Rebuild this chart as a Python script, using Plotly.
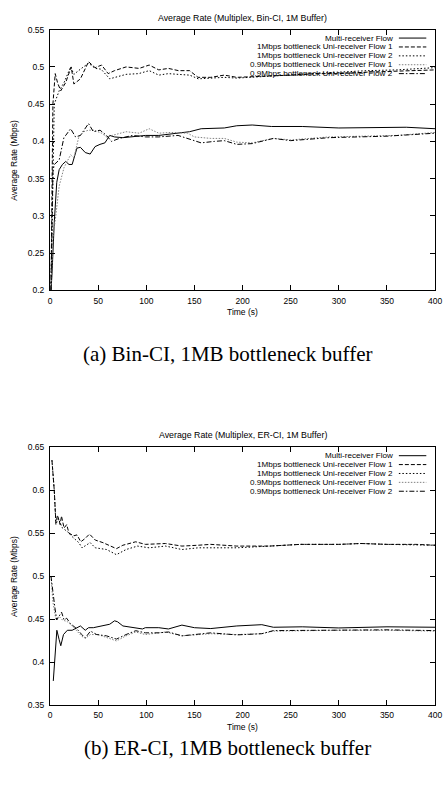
import plotly.graph_objects as go

# ---------------- DATA ----------------
# (a) Bin-CI
bin_multi_t = [1, 2, 4.4, 7, 9.5, 12.9, 16.3, 19.7, 23, 28, 31.6, 36.6, 41.7, 46.8, 51.9, 57, 62, 67, 75.7, 85.8, 99.4, 113, 133, 145, 157, 181, 194, 210, 230, 262, 300, 340, 370, 400]
bin_multi_v = [0.2, 0.22, 0.291, 0.345, 0.362, 0.369, 0.373, 0.369, 0.369, 0.391, 0.392, 0.385, 0.383, 0.393, 0.396, 0.398, 0.408, 0.406, 0.405, 0.406, 0.408, 0.408, 0.411, 0.413, 0.417, 0.418, 0.421, 0.422, 0.420, 0.420, 0.418, 0.419, 0.419, 0.417]

bin_1m_f1_t = [1, 3, 5.4, 8, 11.2, 16.3, 22, 24.8, 31.6, 40, 46.8, 53.6, 60.4, 67, 79, 92.6, 103, 113, 123, 133.4, 145, 153.7, 167, 181, 194, 220, 250, 280, 300, 330, 360, 400]
bin_1m_f1_v = [0.2, 0.45, 0.491, 0.478, 0.468, 0.479, 0.50, 0.477, 0.484, 0.507, 0.499, 0.5025, 0.491, 0.495, 0.50, 0.498, 0.5025, 0.496, 0.498, 0.495, 0.495, 0.486, 0.486, 0.489, 0.486, 0.487, 0.489, 0.491, 0.491, 0.493, 0.494, 0.496]

bin_1m_f2_t = [1, 4.4, 9.5, 14.6, 21.4, 24.8, 31.6, 40, 47, 53, 62, 70, 79, 92, 103, 113, 123, 133, 145, 154, 167, 181, 194, 220, 250, 280, 300, 330, 360, 400]
bin_1m_f2_v = [0.2, 0.45, 0.468, 0.479, 0.50, 0.490, 0.497, 0.505, 0.498, 0.497, 0.484, 0.487, 0.490, 0.491, 0.495, 0.489, 0.491, 0.49, 0.489, 0.484, 0.485, 0.486, 0.485, 0.487, 0.490, 0.492, 0.493, 0.495, 0.496, 0.499]

bin_09_f1_t = [1, 3, 6, 9.5, 14.6, 21.4, 24.8, 29.9, 35, 40, 46, 53.6, 58.7, 68.9, 79, 92.6, 103, 113, 125, 143, 150, 167, 181, 194, 210, 232, 250, 290, 330, 360, 400]
bin_09_f1_v = [0.2, 0.27, 0.30, 0.34, 0.365, 0.382, 0.378, 0.406, 0.413, 0.415, 0.415, 0.411, 0.406, 0.41, 0.413, 0.411, 0.417, 0.411, 0.412, 0.411, 0.406, 0.404, 0.404, 0.399, 0.398, 0.404, 0.402, 0.406, 0.407, 0.408, 0.412]

bin_09_f2_t = [1, 3, 4.5, 9.5, 14.6, 16.3, 21.4, 26.5, 31.6, 40, 45, 52, 58.7, 63.8, 72, 85.8, 99.4, 113, 133, 143, 157, 170.7, 181, 194, 210, 232, 250, 290, 350, 400]
bin_09_f2_v = [0.2, 0.36, 0.369, 0.375, 0.406, 0.408, 0.417, 0.406, 0.408, 0.424, 0.413, 0.415, 0.408, 0.40, 0.404, 0.408, 0.406, 0.406, 0.408, 0.404, 0.398, 0.400, 0.401, 0.396, 0.397, 0.404, 0.401, 0.405, 0.407, 0.411]

# (b) ER-CI
er_multi_t = [3.4, 6.1, 7.1, 9.5, 11.2, 14, 18, 23, 28, 31.6, 36.6, 40, 45, 55, 62, 67, 70, 75.7, 89, 96, 99, 113, 123, 137, 150, 167, 194, 220, 232, 262, 300, 350, 400]
er_multi_v = [0.378, 0.429, 0.437, 0.426, 0.419, 0.432, 0.437, 0.437, 0.440, 0.442, 0.437, 0.440, 0.440, 0.442, 0.444, 0.448, 0.447, 0.442, 0.440, 0.4385, 0.440, 0.440, 0.4385, 0.443, 0.440, 0.439, 0.442, 0.4435, 0.4405, 0.441, 0.4397, 0.441, 0.4405]

er_1m_f1_t = [2, 4.4, 6.1, 7.8, 10.5, 11.9, 14.6, 17.3, 19.7, 24.8, 28, 32, 36.6, 41, 47, 55, 69, 75.7, 89, 99, 120, 137, 154, 167, 194, 228, 260, 300, 323, 350, 380, 400]
er_1m_f1_v = [0.635, 0.60, 0.562, 0.571, 0.560, 0.570, 0.556, 0.560, 0.55, 0.547, 0.548, 0.540, 0.544, 0.549, 0.542, 0.539, 0.532, 0.536, 0.540, 0.537, 0.538, 0.535, 0.536, 0.537, 0.535, 0.535, 0.537, 0.537, 0.538, 0.537, 0.537, 0.536]

er_1m_f2_t = [2, 4.4, 6.1, 8.5, 12.9, 18, 23, 29.9, 33.3, 41.7, 47, 58.7, 69, 79, 90.9, 103, 120, 137, 154, 194, 228, 260, 300, 323, 350, 400]
er_1m_f2_v = [0.635, 0.60, 0.560, 0.567, 0.556, 0.552, 0.546, 0.539, 0.533, 0.539, 0.533, 0.531, 0.525, 0.531, 0.535, 0.533, 0.535, 0.531, 0.533, 0.533, 0.535, 0.537, 0.537, 0.538, 0.537, 0.536]

er_09_f1_t = [1, 3, 6, 9.5, 12.9, 18, 23, 28, 33, 36.6, 42, 50, 58.7, 69, 79, 89, 99, 120, 137, 167, 194, 220, 232, 262, 300, 350, 400]
er_09_f1_v = [0.5, 0.47, 0.45, 0.453, 0.449, 0.447, 0.442, 0.436, 0.430, 0.4277, 0.432, 0.432, 0.429, 0.4246, 0.4305, 0.435, 0.432, 0.435, 0.4305, 0.433, 0.432, 0.433, 0.436, 0.4365, 0.437, 0.437, 0.436]

er_09_f2_t = [1, 3, 5.1, 7, 9.5, 12, 14.6, 17.3, 21, 28, 33, 36.6, 42, 48.5, 58.7, 69, 79, 89, 99, 113, 123, 137, 150, 167, 194, 220, 232, 262, 300, 350, 400]
er_09_f2_v = [0.5, 0.48, 0.463, 0.449, 0.454, 0.458, 0.449, 0.451, 0.445, 0.4385, 0.432, 0.428, 0.436, 0.432, 0.4305, 0.4267, 0.432, 0.4365, 0.434, 0.434, 0.435, 0.4305, 0.432, 0.434, 0.4316, 0.433, 0.4366, 0.437, 0.437, 0.4375, 0.4366]

series_names = ["Multi-receiver Flow",
                "1Mbps bottleneck Uni-receiver Flow 1",
                "1Mbps bottleneck Uni-receiver Flow 2",
                "0.9Mbps bottleneck Uni-receiver Flow 1",
                "0.9Mbps bottleneck Uni-receiver Flow 2"]

titles = ["Average Rate (Multiplex, Bin-CI, 1M Buffer)",
          "Average Rate (Multiplex, ER-CI, 1M Buffer)"]
captions = ["(a) Bin-CI, 1MB bottleneck buffer",
            "(b) ER-CI, 1MB bottleneck buffer"]
x_label = "Time (s)"
y_label = "Average Rate (Mbps)"

x_ticks = [0, 50, 100, 150, 200, 250, 300, 350, 400]
y_ticks_a = [0.2, 0.25, 0.3, 0.35, 0.4, 0.45, 0.5, 0.55]
y_ticks_a_text = ["0.2", "0.25", "0.3", "0.35", "0.4", "0.45", "0.5", "0.55"]
y_ticks_b = [0.35, 0.4, 0.45, 0.5, 0.55, 0.6, 0.65]
y_ticks_b_text = ["0.35", "0.4", "0.45", "0.5", "0.55", "0.6", "0.65"]

# ---------------- STYLE / LAYOUT ----------------
W, H = 448, 787
SANS = "Liberation Sans, Arial, sans-serif"
SERIF = "Liberation Serif, Times New Roman, serif"

styles = [
    dict(color="black", width=1, dash="solid"),
    dict(color="black", width=1, dash="4px,2px"),
    dict(color="black", width=1, dash="1.5px,2px"),
    dict(color="#808080", width=1, dash="1.5px,1.5px"),
    dict(color="black", width=1, dash="5px,2px,1.5px,2px"),
]

def px_x(p):
    return p / W

def px_y(p):
    return 1 - p / H

x_left, x_right = 49, 442
panels = [
    dict(top=25, bottom=289, xa="x", ya="y", cap=353,
         data=[(bin_multi_t, bin_multi_v), (bin_1m_f1_t, bin_1m_f1_v), (bin_1m_f2_t, bin_1m_f2_v),
               (bin_09_f1_t, bin_09_f1_v), (bin_09_f2_t, bin_09_f2_v)],
         yr=[0.2, 0.55], yt=y_ticks_a, ytt=y_ticks_a_text),
    dict(top=448, bottom=709, xa="x2", ya="y2", cap=753,
         data=[(er_multi_t, er_multi_v), (er_1m_f1_t, er_1m_f1_v), (er_1m_f2_t, er_1m_f2_v),
               (er_09_f1_t, er_09_f1_v), (er_09_f2_t, er_09_f2_v)],
         yr=[0.35, 0.65], yt=y_ticks_b, ytt=y_ticks_b_text),
]

fig = go.Figure()
annotations = []
shapes = []
layout_axes = {}

for i, p in enumerate(panels):
    for (t, v), st, nm in zip(p["data"], styles, series_names):
        fig.add_trace(go.Scatter(x=t, y=v, mode="lines", line=st, name=nm,
                                 xaxis=p["xa"], yaxis=p["ya"], showlegend=False,
                                 hoverinfo="skip"))
    xkey = "xaxis" if i == 0 else "xaxis2"
    ykey = "yaxis" if i == 0 else "yaxis2"
    common = dict(showline=True, linecolor="black", linewidth=1, mirror="ticks",
                  ticks="inside", ticklen=5, tickcolor="black", tickwidth=1,
                  showgrid=False, zeroline=False, ticklabeloverflow="allow",
                  tickfont=dict(family=SANS, size=8.5, color="black"))
    layout_axes[xkey] = dict(common, domain=[px_x(x_left), px_x(x_right)],
                             range=[0, 400], tickvals=x_ticks,
                             ticktext=[str(v) for v in x_ticks],
                             anchor=p["ya"], ticklabelstandoff=2)
    layout_axes[ykey] = dict(common, domain=[px_y(p["bottom"]), px_y(p["top"])],
                             range=p["yr"], tickvals=p["yt"], ticktext=p["ytt"],
                             anchor=p["xa"], ticklabelstandoff=3)
    cx = (x_left + x_right) / 2
    # title
    annotations.append(dict(text=titles[i], x=px_x(cx), y=px_y(p["top"] - 12),
                            xref="paper", yref="paper", showarrow=False,
                            xanchor="center", yanchor="middle",
                            font=dict(family=SANS, size=8.8, color="black")))
    # y label
    annotations.append(dict(text=y_label, x=px_x(12), y=px_y((p["top"] + p["bottom"]) / 2),
                            xref="paper", yref="paper", showarrow=False, textangle=-90,
                            xanchor="center", yanchor="middle",
                            font=dict(family=SANS, size=8.5, color="black")))
    # x label
    annotations.append(dict(text=x_label, x=px_x(cx), y=px_y(p["bottom"] + 22),
                            xref="paper", yref="paper", showarrow=False,
                            xanchor="center", yanchor="middle",
                            font=dict(family=SANS, size=8.5, color="black")))
    # caption
    annotations.append(dict(text=captions[i], x=px_x(230), y=px_y(p["cap"]),
                            xref="paper", yref="paper", showarrow=False,
                            xanchor="center", yanchor="middle",
                            font=dict(family=SERIF, size=21, color="black")))
    # legend (gnuplot style: right-aligned text, sample on the right)
    for k, (nm, st) in enumerate(zip(series_names, styles)):
        yy = p["top"] + 8.5 + 9 * k
        annotations.append(dict(text=nm, x=px_x(401), y=px_y(yy), xref="paper", yref="paper",
                                showarrow=False, xanchor="right", yanchor="middle",
                                font=dict(family=SANS, size=8.1, color="black")))
        shapes.append(dict(type="line", xref="paper", yref="paper",
                           x0=px_x(405), x1=px_x(433), y0=px_y(yy), y1=px_y(yy),
                           line=st))

fig.update_layout(width=W, height=H, autosize=False,
                  margin=dict(l=0, r=0, t=0, b=0),
                  paper_bgcolor="white", plot_bgcolor="white",
                  showlegend=False, annotations=annotations, shapes=shapes,
                  **layout_axes)

fig.write_html("out.html")
